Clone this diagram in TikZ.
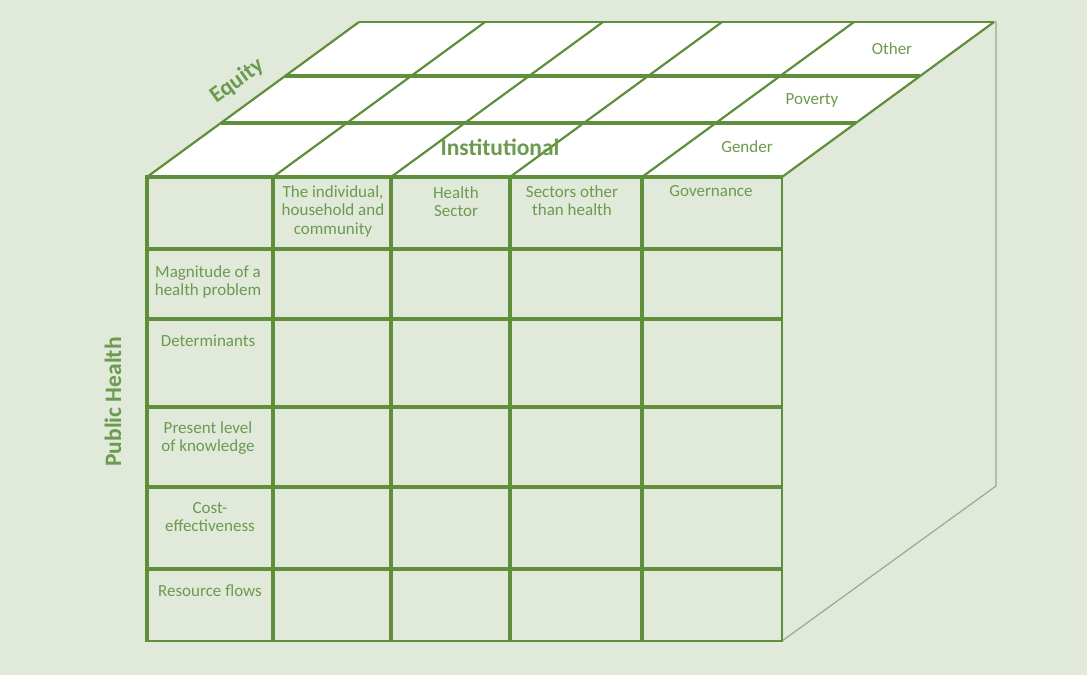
\documentclass[tikz,border=0pt]{standalone}
\usepackage{fontspec}
\setmainfont{Carlito}
\definecolor{bgc}{HTML}{E1E9DA}
\definecolor{lnc}{HTML}{5F8F3A}
\definecolor{txc}{HTML}{6C9A4E}
\definecolor{sdc}{HTML}{97AB8C}
\begin{document}
\begin{tikzpicture}[x=1pt,y=-1pt,
  lbl/.style={text=txc,font=\fontsize{17}{18.5}\selectfont,align=center,inner sep=0pt,anchor=north},
  ttl/.style={text=txc,font=\bfseries\fontsize{23.5}{26}\selectfont,inner sep=0pt},
  gridline/.style={draw=lnc,line width=3.2pt},
  edgeline/.style={draw=lnc,line width=2.4pt},
  thickline/.style={draw=lnc,line width=4.4pt},
  diagline/.style={draw=lnc,line width=2.2pt},
  sideline/.style={draw=sdc,line width=1.2pt}]
\fill[bgc] (0,0) rectangle (1087,675);
\useasboundingbox (0,0) rectangle (1087,675);
% top face
\fill[white] (147,177) -- (782,177) -- (994,22) -- (359,22) -- cycle;
\foreach \x in {147,273,391,510,642,782}
  \draw[diagline] (\x,177) -- ({\x+212},22);
\draw[edgeline] (359,22) -- (994,22);
\draw[thickline] (285,76) -- (920,76);
\draw[thickline] (221,123) -- (856,123);
% right face
\draw[sideline] (994,22) -- (996,22) -- (996,486) -- (782,641);
% front grid
\foreach \x in {147,273,391,510,642}
  \draw[gridline] (\x,175.4) -- (\x,642.2);
\draw[edgeline] (782,175.4) -- (782,642.2);
\foreach \y in {177,249,319,407,487,569}
  \draw[gridline] (145.4,\y) -- (781,\y);
\draw[edgeline] (145.4,641) -- (783.2,641);
% labels
\node[lbl] (hindiv) at (333,184) {\strut The individual,\\household and\\community};
\node[lbl] (hhealth) at (456,185) {\strut Health\\Sector};
\node[lbl] (hsectors) at (572,184) {\strut Sectors other\\than health};
\node[lbl] (hgov) at (711,183) {\strut Governance};
\node[lbl] (tother) at (892,41) {\strut Other};
\node[lbl] (tpoverty) at (812,91) {\strut Poverty};
\node[lbl] (tgender) at (747,139) {\strut Gender};
\node[lbl] (rmag) at (208,264) {\strut Magnitude of a\\health problem};
\node[lbl] (rdet) at (208,333) {\strut Determinants};
\node[lbl] (rpres) at (208,420) {\strut Present level\\of knowledge};
\node[lbl] (rcost) at (210,500) {\strut Cost-\\effectiveness};
\node[lbl] (rres) at (210,583) {\strut Resource flows};
\node[ttl,anchor=base] (tinst) at (500,155) {Institutional};
\node[ttl,rotate=90] (tpub) at (113,402) {Public Health};
\node[ttl,rotate=36,font=\bfseries\fontsize{23}{26}\selectfont] (tequity) at (237,81) {Equity};
\end{tikzpicture}
\end{document}
